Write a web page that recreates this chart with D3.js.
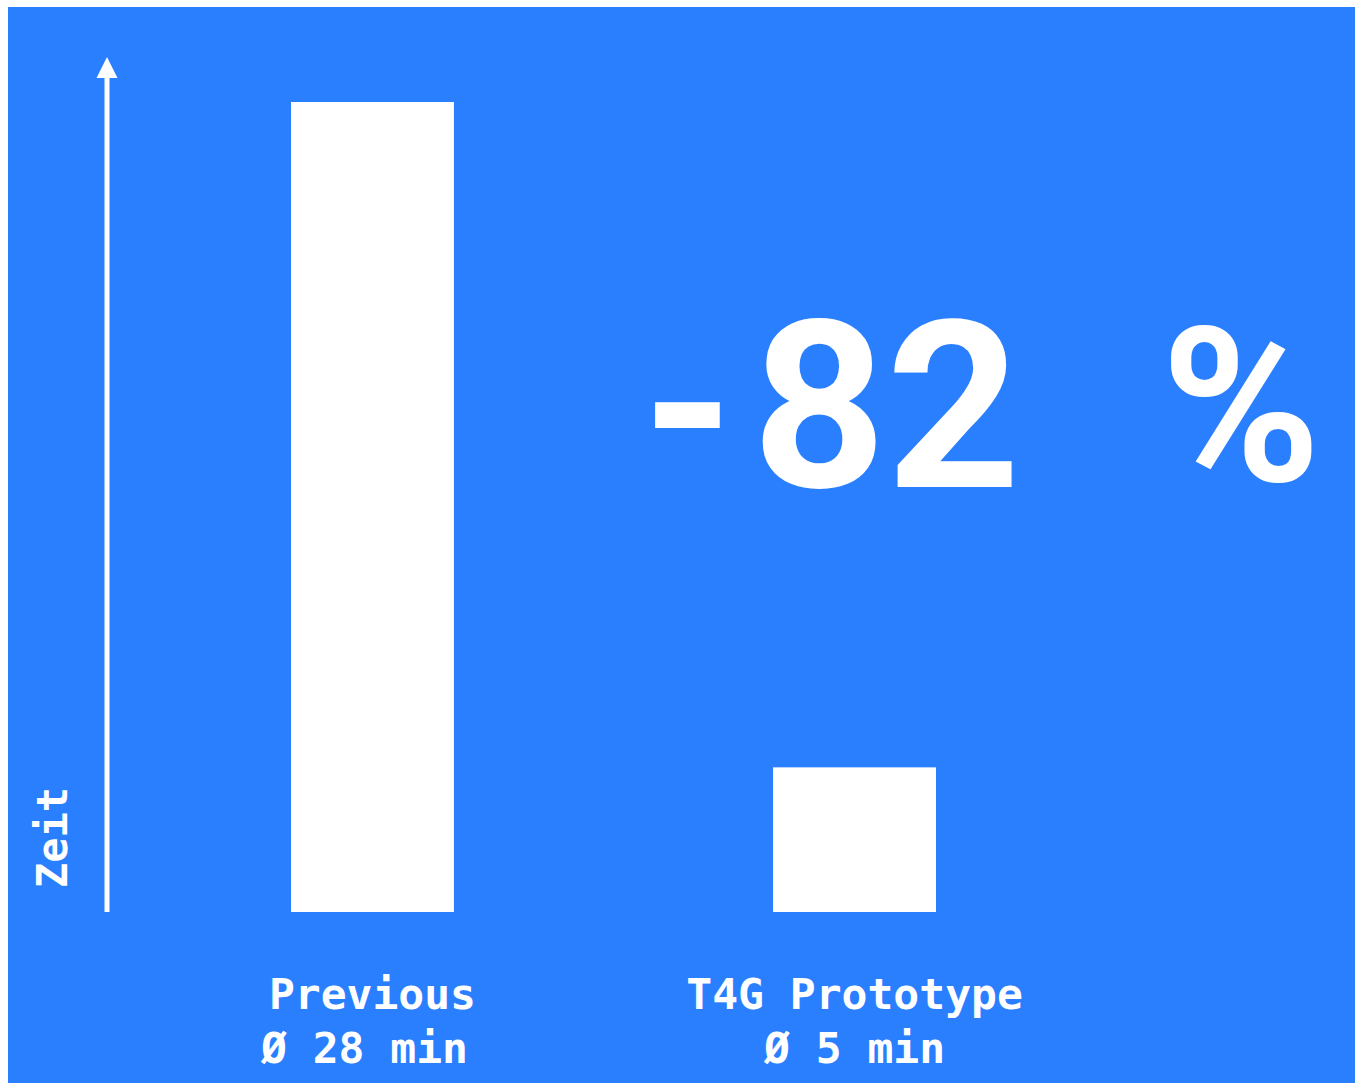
<!DOCTYPE html>
<html>
<head>
<meta charset="utf-8">
<script src="https://cdn.jsdelivr.net/npm/d3@7"></script>
<style>
  html, body { margin: 0; padding: 0; background: #ffffff; }
  svg { display: block; }
</style>
</head>
<body>
<svg id="chart" width="1358" height="1083"></svg>
<script>
const categories = ["Previous", "T4G Prototype"];
const values = [28, 5];
const valueLabels = ["Ø 28 min", "Ø 5 min"];
const axisLabel = "Zeit";
const changeLabel = ["-", "82", "%"];

const svg = d3.select("#chart");
const bg = "#2a7fff";

svg.append("rect").attr("x", 8).attr("y", 7).attr("width", 1347).attr("height", 1076).attr("fill", bg);

const y = d3.scaleLinear().domain([0, 28]).range([912, 102]);
const x = d3.scaleBand().domain(categories).range([291, 936]).paddingInner(0.662).paddingOuter(0);

// bars
svg.append("g").selectAll("rect").data(categories).join("rect")
  .attr("x", d => x(d))
  .attr("y", (d, i) => y(values[i]))
  .attr("width", x.bandwidth())
  .attr("height", (d, i) => y(0) - y(values[i]))
  .attr("fill", "#ffffff");

// axis arrow
const axisX = 107;
svg.append("line")
  .attr("x1", axisX).attr("x2", axisX)
  .attr("y1", y(0)).attr("y2", 72)
  .attr("stroke", "#ffffff").attr("stroke-width", 5);
svg.append("path")
  .attr("d", `M${axisX},57 L${axisX + 10.5},78 L${axisX - 10.5},78 Z`)
  .attr("fill", "#ffffff");

svg.append("text")
  .attr("transform", `translate(67,888) rotate(-90)`)
  .attr("font-family", "'DejaVu Sans Mono', monospace")
  .attr("font-weight", "bold")
  .attr("font-size", 42)
  .attr("fill", "#ffffff")
  .text(axisLabel);

// category labels
const lab = svg.append("g")
  .attr("font-family", "'DejaVu Sans Mono', monospace")
  .attr("font-weight", "bold")
  .attr("font-size", 43)
  .attr("fill", "#ffffff")
  .attr("text-anchor", "middle");
categories.forEach((c, i) => {
  const cx = x(c) + x.bandwidth() / 2;
  const t = lab.append("text").attr("x", cx).attr("y", 1009);
  t.append("tspan").attr("x", cx).attr("y", 1009).text(c);
  t.append("tspan").attr("x", cx - (i === 0 ? 8 : 0)).attr("y", 1063).text(valueLabels[i]);
});

// big change label
const big = svg.append("text")
  .attr("font-family", "Roboto, 'Open Sans', sans-serif")
  .attr("font-weight", "bold")
  .attr("font-size", 234)
  .attr("fill", "#ffffff")
  .attr("y", 487);
big.append("tspan").attr("x", 642).attr("y", 487).text(changeLabel[0]);
big.append("tspan").attr("x", 752).attr("y", 487).text(changeLabel[1]);
big.append("tspan").attr("x", 1161).attr("y", 481).attr("font-size", 216).text(changeLabel[2]);
</script>
</body>
</html>
